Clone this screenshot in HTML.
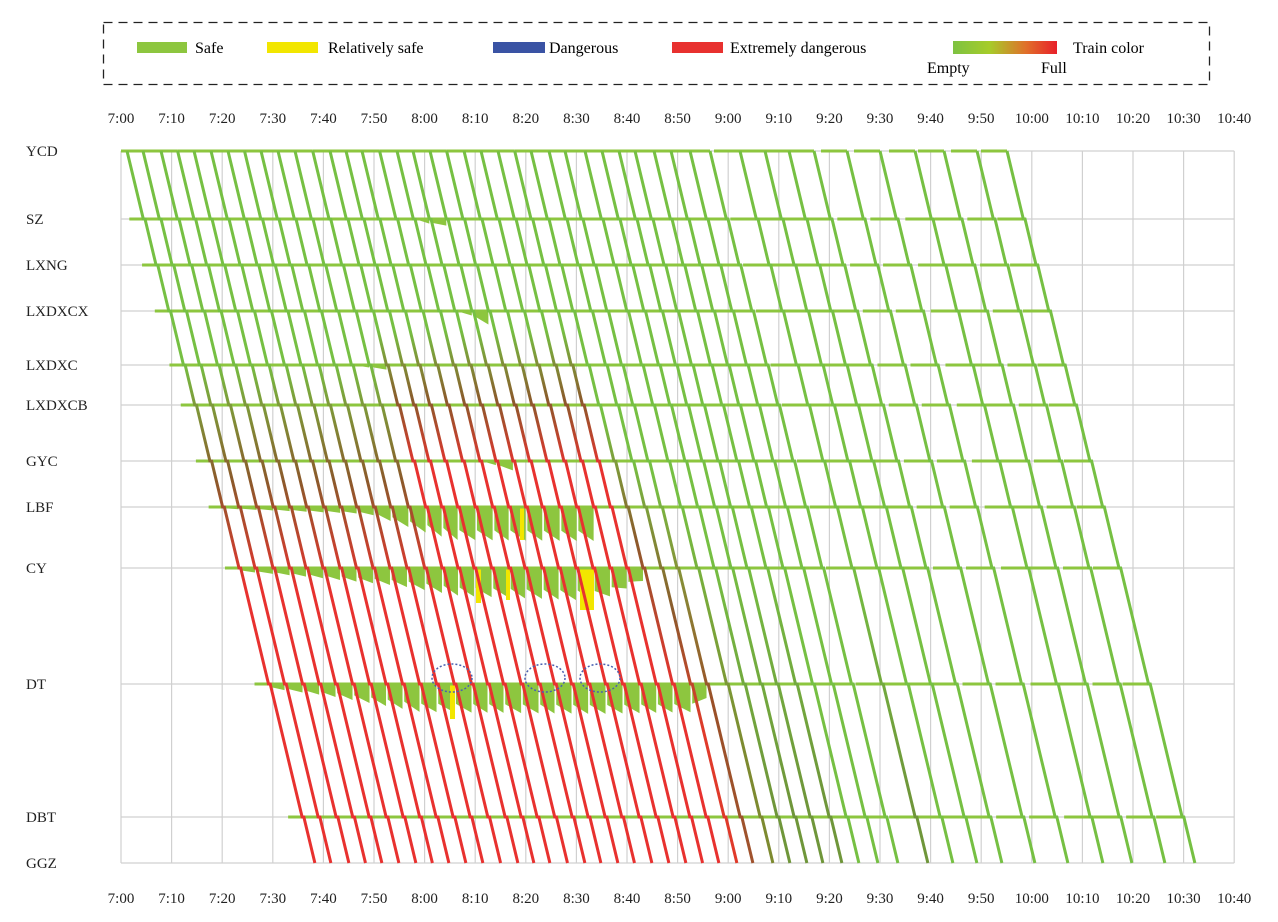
<!DOCTYPE html>
<html><head><meta charset="utf-8">
<style>
html,body{margin:0;padding:0;background:#fff;}
svg{display:block;font-family:"Liberation Serif",serif;}
</style></head>
<body>
<svg id="s" width="1278" height="922" viewBox="0 0 1278 922" xmlns="http://www.w3.org/2000/svg">
<defs>
<linearGradient id="lg" x1="0" x2="1" y1="0" y2="0">
<stop offset="0" stop-color="#7dc242"/><stop offset="0.35" stop-color="#a6cc2a"/><stop offset="0.7" stop-color="#e0702a"/><stop offset="1" stop-color="#e8202a"/>
</linearGradient>
</defs>
<rect x="103.5" y="22.5" width="1106" height="62" fill="none" stroke="#222" stroke-width="1.3" stroke-dasharray="9,6"/>
<rect x="137" y="42" width="50" height="11" fill="#8dc63f"/>
<text x="195" y="53" font-size="16">Safe</text>
<rect x="267" y="42" width="51" height="11" fill="#f2e600"/>
<text x="328" y="53" font-size="16">Relatively safe</text>
<rect x="493" y="42" width="52" height="11" fill="#3a53a4"/>
<text x="549" y="53" font-size="16">Dangerous</text>
<rect x="672" y="42" width="51" height="11" fill="#e8312f"/>
<text x="730" y="53" font-size="16">Extremely dangerous</text>
<rect x="953" y="41" width="104" height="13" fill="url(#lg)"/>
<text x="1073" y="53" font-size="16">Train color</text>
<text x="927" y="73" font-size="16">Empty</text>
<text x="1041" y="73" font-size="16">Full</text>
<g id="grid"></g>
<g id="wedge"></g>
<g id="queue"></g>
<g id="trains"></g>
<g id="lab" font-size="15" fill="#222"></g>
<g fill="none" stroke="#4a5fb0" stroke-width="1.5" stroke-dasharray="2,2">
<ellipse cx="452" cy="678" rx="20" ry="14"/>
<ellipse cx="545" cy="678" rx="20" ry="14"/>
<ellipse cx="600" cy="678" rx="20" ry="14"/>
</g>
</svg>
<script>
var NS="http://www.w3.org/2000/svg";
function el(p,t,a,txt){var e=document.createElementNS(NS,t);for(var k in a)e.setAttribute(k,a[k]);if(txt!==undefined)e.textContent=txt;document.getElementById(p).appendChild(e);return e;}
var X0=121,STEP=50.6;
var SY=[151,219,265,311,365,405,461,507,568,684,817,863];
var SN=["YCD","SZ","LXNG","LXDXCX","LXDXC","LXDXCB","GYC","LBF","CY","DT","DBT","GGZ"];
for(var k=0;k<=22;k++){var x=X0+STEP*k;el("grid","line",{x1:x,x2:x,y1:151,y2:863,stroke:"#d0d0d0","stroke-width":1.2});
var m=k*10,h=7+Math.floor(m/60),mm=m%60;var t=h+":"+(mm<10?"0":"")+mm;
el("lab","text",{x:x,y:123,"text-anchor":"middle"},t);el("lab","text",{x:x,y:903,"text-anchor":"middle"},t);}
for(var i=0;i<SY.length;i++){el("grid","line",{x1:X0,x2:X0+STEP*22,y1:SY[i],y2:SY[i],stroke:"#d0d0d0","stroke-width":1.2});
el("lab","text",{x:26,y:SY[i]+5},SN[i]);}
var A=[315,331,349,365.6,382,399,416,432.5,449,466,483,500.7,518,534,550,567.6,585,601,618,634.6,652,669,686,702.7,719,737,753,773,790,807,823,842,859,878,898,928,953,977,1002,1035,1068,1103,1132,1165,1195];
var D=A.map(function(a){return a-188;});
function arr(i,k){return D[i]+(SY[k]-151)*0.24+1.7*Math.max(0,k-1);}
function dep(i,k){return arr(i,k)+((k>0&&k<11)?1.7:0);}
function pw(pts,x){if(x<pts[0][0]||x>pts[pts.length-1][0])return 0;for(var j=1;j<pts.length;j++){if(x<=pts[j][0]){var a=pts[j-1],b=pts[j];return a[1]+(b[1]-a[1])*(x-a[0])/(b[0]-a[0]);}}return 0;}
var DEP={1:[[420,0],[430,5],[450,7],[452,0]],3:[[468,0],[478,12],[492,14],[494,0]],4:[[360,0],[375,4],[392,5],[394,0]],6:[[490,0],[500,7],[516,10],[518,0]],
7:[[205,1],[370,7],[420,24],[455,33],[575,34],[598,34],[601,0]],
8:[[222,2],[300,8],[400,18],[460,28],[600,33],[645,12],[652,0]],
9:[[252,2],[330,12],[420,28],[600,30],[700,28],[713,0]]};
var G="#8dc63f";
for(var k in DEP){k=+k;for(var i=0;i<A.length-1;i++){var x1=dep(i,k),x2=arr(i+1,k),h=pw(DEP[k],x2),h0=pw(DEP[k],x1)*0.7;if(h>0.5){el("wedge","polygon",{points:x1+","+SY[k]+" "+x2+","+SY[k]+" "+x2+","+(SY[k]+h)+" "+x1+","+(SY[k]+h0),fill:G});}}}
[[476,568,5,35],[506,568,4,32],[580,568,14,42],[520,507,4,33],[450,684,5,35]].forEach(function(r){el("wedge","rect",{x:r[0],y:r[1],width:r[2],height:r[3],fill:"#f2e600"});});
for(var k=0;k<11;k++){for(var i=0;i<A.length;i++){var a=arr(i,k);var s;if(i==0)s=a-(k==0?6:14);else{var p=dep(i-1,k);s=(a<720)?p:Math.max(p,a-26);}
el("queue","line",{x1:s,x2:a,y1:SY[k],y2:SY[k],stroke:G,"stroke-width":3});}}
function stops(i){
 if(i<=11)return [[360,"#76c043"],[480,"#8b5a2b"],[590,"#e8312f"]];
 if(i<=23)return [[330,"#76c043"],[400,"#8b5a2b"],[470,"#e8312f"]];
 if(i==24)return [[420,"#76c043"],[540,"#8b5a2b"],[690,"#e8312f"]];
 if(i==25)return [[460,"#76c043"],[610,"#8b5a2b"],[730,"#e03a2a"]];
 if(i==26)return [[480,"#76c043"],[700,"#9a5028"],[863,"#a0522d"]];
 if(i==27)return [[500,"#76c043"],[750,"#7d8a30"],[863,"#7d8a30"]];
 if(i<=31||i==35)return [[550,"#76c043"],[800,"#6f963a"],[863,"#6f963a"]];
 return null;}
var defs=document.querySelector("defs");
for(var i=0;i<A.length;i++){var d="M"+D[i]+","+SY[0];for(var k=1;k<12;k++){d+=" L"+arr(i,k)+","+SY[k];if(k<11)d+=" L"+dep(i,k)+","+SY[k];}
 var st=stops(i),col="#76c043";
 if(st){var g=document.createElementNS(NS,"linearGradient");g.setAttribute("id","g"+i);g.setAttribute("gradientUnits","userSpaceOnUse");g.setAttribute("x1",0);g.setAttribute("x2",0);g.setAttribute("y1",151);g.setAttribute("y2",863);
  st.forEach(function(s){var o=document.createElementNS(NS,"stop");o.setAttribute("offset",((s[0]-151)/712).toFixed(3));o.setAttribute("stop-color",s[1]);g.appendChild(o);});
  defs.appendChild(g);col="url(#g"+i+")";}
 el("trains","path",{d:d,fill:"none",stroke:col,"stroke-width":3,"stroke-linejoin":"miter"});}
</script>
</body></html>
